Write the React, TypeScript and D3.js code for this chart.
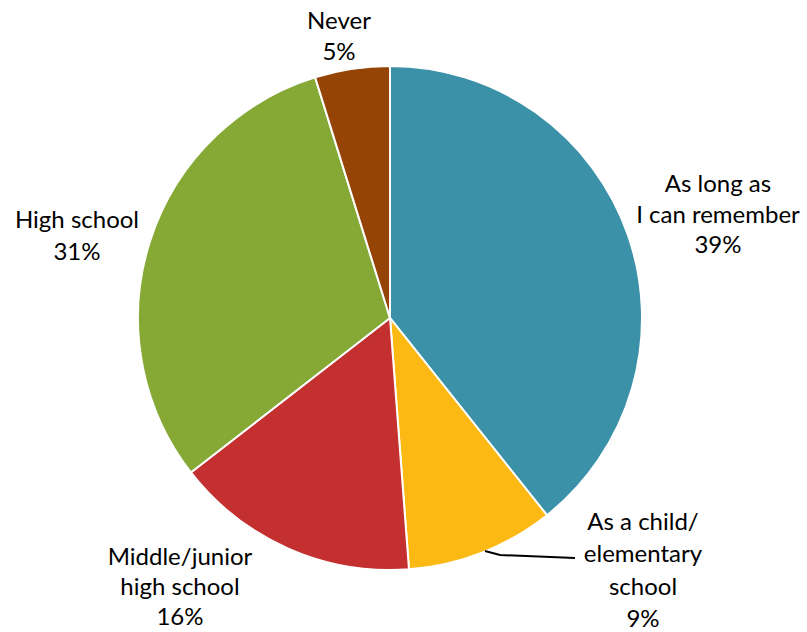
import React from "react";
import * as d3 from "d3";

const categories = [
  "As long as I can remember",
  "As a child/ elementary school",
  "Middle/junior high school",
  "High school",
  "Never",
];
// underlying shares (labels show rounded values)
const values = [39.3, 9.5, 15.7, 30.7, 4.8];
const colors = ["#3A91A8", "#FDB913", "#C3302F", "#86A936", "#964405"];
const labelLines = [
  ["As long as", "I can remember", "39%"],
  ["As a child/", "elementary", "school", "9%"],
  ["Middle/junior", "high school", "16%"],
  ["High school", "31%"],
  ["Never", "5%"],
];

const W = 807;
const H = 632;
const cx = 390;
const cy = 318;
const R = 252;

// label anchor positions (centre x, first baseline y, line step)
const labelPos = [
  { x: 718, y: 192, step: 30.5 },
  { x: 643, y: 530, step: 32.3 },
  { x: 180, y: 565, step: 30 },
  { x: 77, y: 228, step: 31.5 },
  { x: 339, y: 29, step: 31 },
];

export default function App() {
  const pie = d3
    .pie<number>()
    .sort(null)
    .startAngle(0)
    .endAngle(2 * Math.PI)
    .value((d) => d);
  const arcs = pie(values);
  const arc = d3.arc<d3.PieArcDatum<number>>().innerRadius(0).outerRadius(R);

  const leader = d3.line()([
    [485, 551],
    [500, 555],
    [575, 558],
  ]);

  return (
    <svg
      width={W}
      height={H}
      style={{ position: "absolute", left: 0, top: 0 }}
      fontFamily="Lato, 'Open Sans', sans-serif"
    >
      <rect width={W} height={H} fill="#ffffff" />
      <g transform={`translate(${cx},${cy})`}>
        {arcs.map((a, i) => (
          <path
            key={categories[i]}
            d={arc(a) || ""}
            fill={colors[i]}
            stroke="#ffffff"
            strokeWidth={2}
          />
        ))}
      </g>
      <path d={leader || ""} fill="none" stroke="#000" strokeWidth={2} />
      {labelLines.map((lines, i) => (
        <text
          key={categories[i]}
          textAnchor="middle"
          fontSize={24}
          fill="#000"
        >
          {lines.map((t, j) => (
            <tspan key={j} x={labelPos[i].x} y={labelPos[i].y + j * labelPos[i].step}>
              {t}
            </tspan>
          ))}
        </text>
      ))}
    </svg>
  );
}
